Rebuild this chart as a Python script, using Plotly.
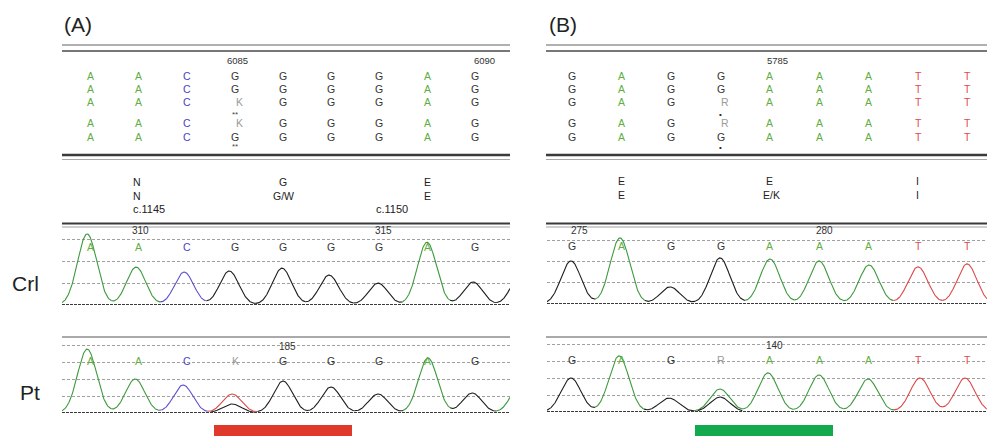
import numpy as np
import plotly.graph_objects as go

W, H = 987, 437

# ---------------- data ----------------
A_ref_rows = ["AACGGGGAG", "AACGGGGAG", "AACKGGGAG", "AACKGGGAG", "AACGGGGAG"]
B_ref_rows = ["GAGGAAATT", "GAGGAAATT", "GAGRAAATT", "GAGRAAATT", "GAGGAAATT"]

A_crl_calls = list("AACGGGGAG")
A_pt_calls = list("AACKGGGAG")
B_crl_calls = list("GAGGAAATT")
B_pt_calls = list("GAGRAAATT")

# peak centres (base index), heights (grid units), dye channel
A_crl_pos = [0.92, 1.94, 2.94, 3.88, 4.98, 5.96, 6.98, 8.00, 8.96, 9.95]
A_crl_h = [3.28, 1.75, 1.52, 1.57, 1.70, 1.38, 1.01, 2.90, 1.06, 1.40]
A_crl_ch = list("AACGGGGAGG")

A_pt_pos = [0.92, 1.92, 2.92, 3.94, 5.00, 6.00, 6.98, 8.02, 8.94, 9.95]
A_pt_h = [3.76, 2.00, 1.65, 1.12, 1.88, 1.53, 1.12, 3.24, 1.18, 1.70]
A_pt_ch = list("AACTGGGAGA")
A_pt_sec = [(3.94, 0.53, "G")]

B_crl_pos = [0.98, 1.97, 2.98, 3.99, 5.00, 5.99, 7.00, 7.99, 8.98]
B_crl_h = [2.02, 3.10, 0.80, 2.16, 2.11, 2.02, 1.83, 1.74, 1.88]
B_crl_ch = list("GAGGAAATT")

B_pt_pos = [0.98, 1.95, 2.96, 3.99, 4.96, 5.99, 6.98, 8.03, 8.94]
B_pt_h = [2.00, 3.30, 0.82, 1.35, 2.30, 2.18, 1.94, 2.00, 2.00]
B_pt_ch = list("GAGAAAATT")
B_pt_sec = [(3.99, 0.88, "G")]

A_top_nums = [("6085", 4.06), ("6090", 9.19)]
B_top_nums = [("5785", 5.16)]
A_crl_nums = [("310", 2.04), ("315", 7.10)]
A_pt_nums = [("185", 5.10)]
B_crl_nums = [("275", 1.16), ("280", 6.11)]
B_pt_nums = [("140", 5.10)]

A_prot = [("N", 1.96, 0), ("N", 1.96, 1), ("G", 5.0, 0), ("G/W", 5.0, 1), ("E", 8.02, 0), ("E", 8.02, 1)]
A_cdna = [("c.1145", 1.83), ("c.1150", 6.90)]
B_prot = [("E", 2.01, 0), ("E", 2.01, 1), ("E", 4.99, 0), ("E/K", 5.03, 1), ("I", 7.97, 0), ("I", 7.97, 1)]

# ---------------- styles ----------------
TRACE = {"A": "#3d9a3d", "C": "#5a4fd0", "G": "#1e1e1e", "T": "#dc4a4a"}
LETTER = {"A": "#5fae3f", "C": "#4a3fc4", "G": "#333333", "T": "#e04a4a", "K": "#9a9a9a", "R": "#9a9a9a"}
FONT = "Liberation Sans, Arial, sans-serif"
SIG = 0.2


def X(p):
    return p / W


def Y(p):
    return 1 - p / H


fig = go.Figure()

panels = [
    dict(n=1, xd=(62, 510), xr=(0.396, 9.729), base=305, unit=21.67, top=229, grid=[1, 2, 3],
         pos=A_crl_pos, h=A_crl_h, ch=A_crl_ch, sec=[]),
    dict(n=2, xd=(62, 510), xr=(0.396, 9.729), base=413, unit=17.0, top=337, grid=[1, 2, 3, 4],
         pos=A_pt_pos, h=A_pt_h, ch=A_pt_ch, sec=A_pt_sec),
    dict(n=3, xd=(547, 987), xr=(0.495, 9.384), base=304, unit=21.33, top=229, grid=[1, 2, 3],
         pos=B_crl_pos, h=B_crl_h, ch=B_crl_ch, sec=[]),
    dict(n=4, xd=(547, 987), xr=(0.495, 9.384), base=412, unit=17.0, top=337, grid=[1, 2, 3, 4],
         pos=B_pt_pos, h=B_pt_h, ch=B_pt_ch, sec=B_pt_sec),
]

layout = dict(width=W, height=H, margin=dict(l=0, r=0, t=0, b=0), autosize=False,
              paper_bgcolor="white", plot_bgcolor="white", showlegend=False,
              font=dict(family=FONT, color="#222"))
shapes = []
annotations = []

for P in panels:
    n = P["n"]
    sfx = "" if n == 1 else str(n)
    ymax = (P["base"] - P["top"]) / P["unit"]
    layout["xaxis" + sfx] = dict(domain=[X(P["xd"][0]), X(P["xd"][1])], range=list(P["xr"]),
                                 anchor="y" + sfx, showgrid=False, zeroline=False,
                                 showticklabels=False, showline=False, ticks="", fixedrange=True)
    layout["yaxis" + sfx] = dict(domain=[Y(P["base"]), Y(P["top"])], range=[0, ymax],
                                 anchor="x" + sfx, showgrid=True, gridcolor="#a0a0a0", gridwidth=1,
                                 griddash="3px,2px", tickvals=P["grid"], zeroline=False,
                                 showticklabels=False, showline=False, ticks="", fixedrange=True)
    # baseline
    shapes.append(dict(type="line", xref=f"x{sfx} domain", yref="y" + sfx, x0=0, x1=1, y0=0, y1=0,
                       line=dict(color="#3a3a3a", width=2, dash="3px,1px")))
    pos, hh, ch = P["pos"], P["h"], P["ch"]

    def total(x):
        return sum(h_ * np.exp(-0.5 * ((x - p_) / SIG) ** 2) for p_, h_ in zip(pos, hh))

    bounds = [P["xr"][0]] + [(pos[i] + pos[i + 1]) / 2 for i in range(len(pos) - 1)] + [P["xr"][1]]
    for i in range(len(pos)):
        b0, b1 = bounds[i], min(bounds[i + 1], P["xr"][1])
        if b1 <= b0:
            continue
        xs = np.linspace(b0, b1, 120)
        fig.add_trace(go.Scatter(x=xs, y=total(xs), mode="lines", xaxis="x" + sfx, yaxis="y" + sfx,
                                 line=dict(color=TRACE[ch[i]], width=1.1), hoverinfo="skip"))
    for p_, h_, c_ in P["sec"]:
        xs = np.linspace(p_ - 0.45, p_ + 0.45, 100)
        fig.add_trace(go.Scatter(x=xs, y=h_ * np.exp(-0.5 * ((xs - p_) / SIG) ** 2), mode="lines",
                                 xaxis="x" + sfx, yaxis="y" + sfx,
                                 line=dict(color=TRACE[c_], width=1.1), hoverinfo="skip"))


def ann(text, x, y, xref, size, color="#222", xanchor="center"):
    annotations.append(dict(text=text, x=x, y=Y(y), xref=xref, yref="paper", showarrow=False,
                            xanchor=xanchor, yanchor="middle", font=dict(size=size, color=color, family=FONT)))


def hline(x0, x1, y, color, width):
    shapes.append(dict(type="line", xref="paper", yref="paper", x0=X(x0), x1=X(x1), y0=Y(y), y1=Y(y),
                       line=dict(color=color, width=width)))


# section borders
for (x0, x1) in [(62, 510), (546, 987)]:
    hline(x0, x1, 45, "#b0b0b0", 2)
    hline(x0, x1, 51, "#4a4a4a", 1.5)
    hline(x0, x1, 155, "#3a3a3a", 2.5)
    hline(x0, x1, 159.5, "#a8a8a8", 1)
    hline(x0, x1, 223.5, "#3a3a3a", 2)
    hline(x0, x1, 227, "#a0a0a0", 1)
    hline(x0, x1, 337, "#555555", 1)

# alignment block
row_y = [76, 89, 102, 123, 137]
for rows, xref in [(A_ref_rows, "x"), (B_ref_rows, "x3")]:
    for r, yy in zip(rows, row_y):
        for i, b in enumerate(r):
            off = 0.1 if b in "KR" else 0.0
            ann(b, i + 1 + off, yy, xref, 10.5, LETTER[b])
for t, x in A_top_nums:
    ann(t, x, 60, "x", 9.5, "#333")
for t, x in B_top_nums:
    ann(t, x, 60, "x3", 9.5, "#333")
ann("**", 4.0, 114, "x", 8, "#444")
ann("**", 4.0, 146, "x", 8, "#444")
ann("•", 4.0, 115, "x3", 8, "#222")
ann("•", 4.0, 147, "x3", 8, "#222")

# protein / cDNA block
for t, x, k in A_prot:
    ann(t, x, 182 + 14 * k, "x", 10.5, "#222")
for t, x in A_cdna:
    ann(t, x, 209, "x", 11, "#222", "left")
for t, x, k in B_prot:
    ann(t, x, 181 + 14 * k, "x3", 10.5, "#222")

# chromatogram labels
for calls, xref, yy in [(A_crl_calls, "x", 247), (A_pt_calls, "x2", 361),
                        (B_crl_calls, "x3", 246), (B_pt_calls, "x4", 360)]:
    for i, b in enumerate(calls):
        ann(b, i + 1, yy, xref, 10.5, LETTER[b])
for nums, xref, yy in [(A_crl_nums, "x", 231), (A_pt_nums, "x2", 346),
                       (B_crl_nums, "x3", 230), (B_pt_nums, "x4", 345)]:
    for t, x in nums:
        ann(t, x, yy, xref, 10, "#333")

# panel labels
ann("(A)", 62, 24, "paper", 21, "#222", "left")
annotations[-1]["x"] = X(62)
ann("(B)", 547, 24, "paper", 21, "#222", "left")
annotations[-1]["x"] = X(547)
ann("Crl", 25, 283, "paper", 21, "#222")
annotations[-1]["x"] = X(25)
ann("Pt", 30, 392, "paper", 21, "#222")
annotations[-1]["x"] = X(30)

# highlight bars
shapes.append(dict(type="rect", xref="paper", yref="paper", x0=X(214), x1=X(352), y0=Y(436), y1=Y(425),
                   fillcolor="#e0392b", line=dict(width=0)))
shapes.append(dict(type="rect", xref="paper", yref="paper", x0=X(695), x1=X(833), y0=Y(436), y1=Y(425),
                   fillcolor="#12aa4c", line=dict(width=0)))

layout["shapes"] = shapes
layout["annotations"] = annotations
fig.update_layout(**layout)

fig.write_html("out.html", config={"displayModeBar": False},
               post_script="document.body.style.margin='0';document.body.style.overflow='hidden';")
